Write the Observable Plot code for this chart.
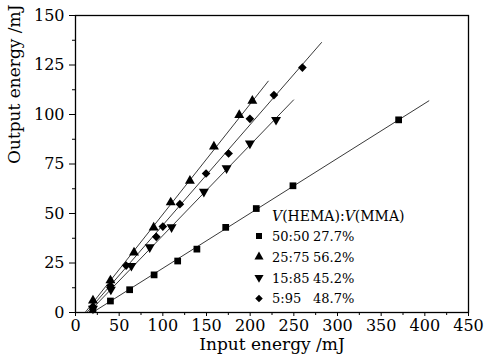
<!DOCTYPE html>
<html>
<head>
<meta charset="utf-8">
<script src="https://cdn.jsdelivr.net/npm/d3@7"></script>
<script src="https://cdn.jsdelivr.net/npm/@observablehq/plot@0.6"></script>
<style>
  html, body { margin: 0; padding: 0; background: #fff; }
  #chart { width: 484px; height: 363px; }
</style>
</head>
<body>
<div id="chart"></div>
<script>
// ---- data ----
const xTicks = [0, 50, 100, 150, 200, 250, 300, 350, 400, 450];
const yTicks = [0, 25, 50, 75, 100, 125, 150];
const xMinorTicks = [25, 75, 125, 175, 225, 275, 325, 375, 425];
const yMinorTicks = [12.5, 37.5, 62.5, 87.5, 112.5, 137.5];

const seriesNames = ["50:50", "25:75", "15:85", "5:95"];
const efficiencies = ["27.7%", "56.2%", "45.2%", "48.7%"];
const legendTitle = ["V", "(HEMA):", "V", "(MMA)"];

// 50:50 (squares)
const xS1 = [20, 40, 62, 90, 117, 139, 172, 207, 249, 370];
const yS1 = [1.5, 5.8, 11.5, 19, 26, 32, 43, 52.5, 64, 97.3];
// 25:75 (triangles up)
const xS2 = [20, 40, 67, 89.5, 109, 131, 158.5, 187.5, 202.5];
const yS2 = [6, 16.2, 30.3, 42.9, 55.6, 66.5, 83.8, 99.7, 106.9];
// 15:85 (triangles down)
const xS3 = [20, 40.5, 64, 85, 110, 147, 173, 199.7, 229.6];
const yS3 = [2, 11.6, 23.6, 33, 43.1, 61, 72.9, 85.4, 97.3];
// 5:95 (diamonds)
const xS4 = [20, 40, 58, 92.5, 100, 119.5, 149.5, 175.3, 199.7, 227.2, 259.8];
const yS4 = [3, 13.5, 23.7, 38.2, 43.4, 54.7, 70.2, 80.3, 97.8, 109.8, 123.7];

// fitted lines (start / end points)
const fitX1 = [19.5, 11, 15, 13];
const fitY1 = [0, 0, 0, 0];
const fitX2 = [405, 221, 250, 282];
const fitY2 = [107, 117, 107.5, 136.5];

// ---- build tables ----
const toRows = (xs, ys) => xs.map((x, i) => ({x, y: ys[i]}));
const s1 = toRows(xS1, yS1), s2 = toRows(xS2, yS2), s3 = toRows(xS3, yS3), s4 = toRows(xS4, yS4);
const fits = seriesNames.map((name, i) => ({name, x1: fitX1[i], y1: fitY1[i], x2: fitX2[i], y2: fitY2[i]}));

const font = "'DejaVu Serif', serif";

const chart = Plot.plot({
  width: 484,
  height: 363,
  marginLeft: 75,
  marginRight: 16,
  marginTop: 15,
  marginBottom: 51,
  style: {fontFamily: font, fontSize: "16px", color: "black", background: "white"},
  x: {domain: [0, 450], label: null},
  y: {domain: [0, 150], label: null},
  marks: [
    Plot.axisX({ticks: xTicks, tickSize: 4, tickPadding: 3, tickFormat: d => d, fontSize: 16, label: null}),
    Plot.axisX({ticks: xMinorTicks, tickSize: 3, text: null, label: null}),
    Plot.axisY({ticks: yTicks, tickSize: 6, tickPadding: 5, tickFormat: d => d, fontSize: 16, label: null}),
    Plot.axisY({ticks: yMinorTicks, tickSize: 3, text: null, label: null}),
    Plot.link(fits, {x1: "x1", y1: "y1", x2: "x2", y2: "y2", stroke: "#222", strokeWidth: 0.9}),
    Plot.dot(s1, {x: "x", y: "y", symbol: "square", r: 3.8, fill: "black", stroke: "none"}),
    Plot.dot(s2, {x: "x", y: "y", symbol: "triangle", r: 3.7, fill: "black", stroke: "none"}),
    Plot.dot(s3, {x: "x", y: "y", symbol: "triangle", rotate: 180, r: 3.7, fill: "black", stroke: "none"}),
    Plot.dot(s4, {x: "x", y: "y", symbol: "diamond2", r: 3.9, fill: "black", stroke: "none"}),
    Plot.frame({stroke: "black", strokeWidth: 1.3}),
    Plot.text(["Input energy /mJ"], {frameAnchor: "bottom", dy: 37, fontSize: 17, fill: "black"}),
    Plot.text(["Output energy /mJ"], {frameAnchor: "left", dx: -61, rotate: -90, fontSize: 17, fill: "black"})
  ]
});

document.getElementById("chart").appendChild(chart);

// ---- legend (layout drawn on top of the Plot svg) ----
const svg = d3.select(chart);
const lg = svg.append("g")
  .attr("font-family", font)
  .attr("font-size", 13)
  .attr("fill", "black")
  .attr("text-anchor", "start");
const title = lg.append("text").attr("x", 272).attr("y", 221).attr("font-size", 14).attr("text-anchor", "start");
legendTitle.forEach((t, i) => {
  title.append("tspan").attr("font-style", i % 2 === 0 ? "italic" : "normal").text(t);
});
const symbols = [d3.symbolSquare, d3.symbolTriangle, d3.symbolTriangle, d3.symbolDiamond2];
const sizes = [36, 36, 36, 36];
const rotations = [0, 0, 180, 0];
seriesNames.forEach((name, i) => {
  const yb = 241 + i * 20.8;
  lg.append("path")
    .attr("d", d3.symbol(symbols[i], sizes[i])())
    .attr("transform", `translate(259,${yb - 5}) rotate(${rotations[i]})`)
    .attr("fill", "black");
  lg.append("text").attr("x", 272).attr("y", yb).attr("text-anchor", "start").text(name);
  lg.append("text").attr("x", 313).attr("y", yb).attr("text-anchor", "start").text(efficiencies[i]);
});
</script>
</body>
</html>
